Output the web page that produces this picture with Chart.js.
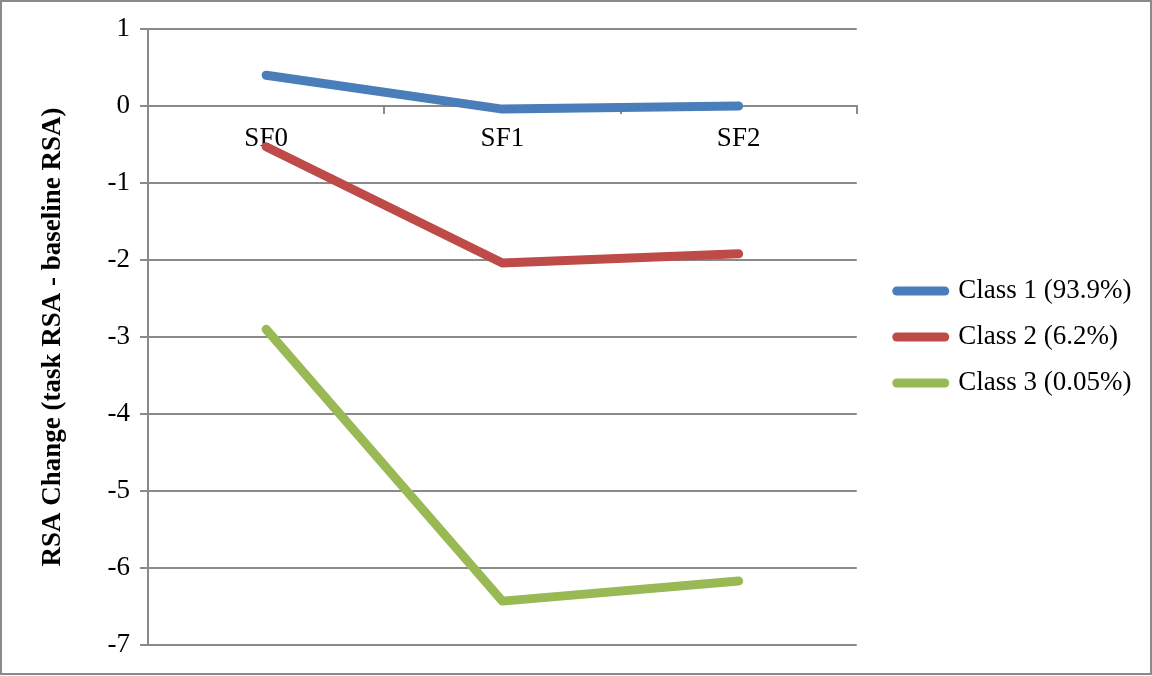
<!DOCTYPE html>
<html>
<head>
<meta charset="utf-8">
<script src="https://cdn.jsdelivr.net/npm/chart.js@4/dist/chart.umd.min.js"></script>
<style>
  html, body { margin: 0; padding: 0; background: #fff; }
  #wrap { width: 1152px; height: 676px; position: relative; }
</style>
</head>
<body>
<div id="wrap"><canvas id="c" width="1152" height="676"></canvas></div>
<script>
const categories = ['SF0', 'SF1', 'SF2'];
const seriesNames = ['Class 1 (93.9%)', 'Class 2 (6.2%)', 'Class 3 (0.05%)'];
const class1 = [0.40, -0.04, 0.00];
const class2 = [-0.53, -2.04, -1.92];
const class3 = [-2.90, -6.43, -6.17];
const colors = ['#4A7EBB', '#BE4B48', '#98B954'];
const yMin = -7, yMax = 1, yStep = 1;
const yTitle = 'RSA Change (task RSA - baseline RSA)';

const FONT = "'Liberation Serif', 'Times New Roman', serif";
const FS = 27;
const GRID = '#8a8a8a';

const borderPlugin = {
  id: 'outerBorder',
  afterDraw(chart) {
    const ctx = chart.ctx;
    ctx.save();
    ctx.strokeStyle = '#8a8a8a';
    ctx.lineWidth = 2;
    ctx.strokeRect(1, 1, chart.width - 2, chart.height - 3);
    ctx.restore();
  }
};

function mkDataset(label, data, color) {
  return {
    label, data,
    borderColor: color, backgroundColor: color,
    borderWidth: 9, pointRadius: 0, pointHoverRadius: 0,
    tension: 0, borderCapStyle: 'round', borderJoinStyle: 'round',
    pointStyle: 'line'
  };
}

new Chart(document.getElementById('c'), {
  type: 'line',
  data: {
    labels: categories,
    datasets: [
      mkDataset(seriesNames[0], class1, colors[0]),
      mkDataset(seriesNames[1], class2, colors[1]),
      mkDataset(seriesNames[2], class3, colors[2])
    ]
  },
  options: {
    responsive: false,
    animation: false,
    layout: { padding: { left: 0, top: 29, bottom: 31, right: 10.5 } },
    plugins: {
      tooltip: { enabled: false },
      legend: {
        position: 'right',
        align: 'center',
        maxWidth: 320,
        labels: {
          usePointStyle: true,
          pointStyleWidth: 48,
          padding: 19,
          color: '#000',
          font: { family: FONT, size: FS },
          generateLabels(chart) {
            const items = Chart.defaults.plugins.legend.labels.generateLabels(chart);
            items.forEach(it => { it.lineCap = 'round'; it.lineWidth = 9; });
            return items;
          }
        }
      }
    },
    scales: {
      x: {
        type: 'category',
        position: { y: 0 },
        offset: true,
        grid: { display: true, drawOnChartArea: false, drawTicks: true, tickLength: 7, offset: true, color: GRID, lineWidth: 2 },
        border: { display: true, color: GRID, width: 2 },
        ticks: { color: '#000', font: { family: FONT, size: FS }, padding: 10, maxRotation: 0 }
      },
      y: {
        position: 'left',
        min: yMin, max: yMax,
        afterFit(s) { s.width = 148; },
        ticks: { stepSize: yStep, color: '#000', font: { family: FONT, size: FS }, padding: 10 },
        grid: { color: GRID, lineWidth: 2, tickLength: 8 },
        border: { display: true, color: GRID, width: 2 },
        title: { display: true, text: yTitle, color: '#000', font: { family: FONT, size: FS, weight: 'bold' }, padding: { top: 37, bottom: 0 } }
      },
      y2: {
        position: 'right',
        display: true,
        min: yMin, max: yMax,
        afterFit(s) { s.width = 21; },
        grid: { display: false },
        border: { display: false },
        ticks: { display: false }
      }
    }
  },
  plugins: [borderPlugin]
});
</script>
</body>
</html>
